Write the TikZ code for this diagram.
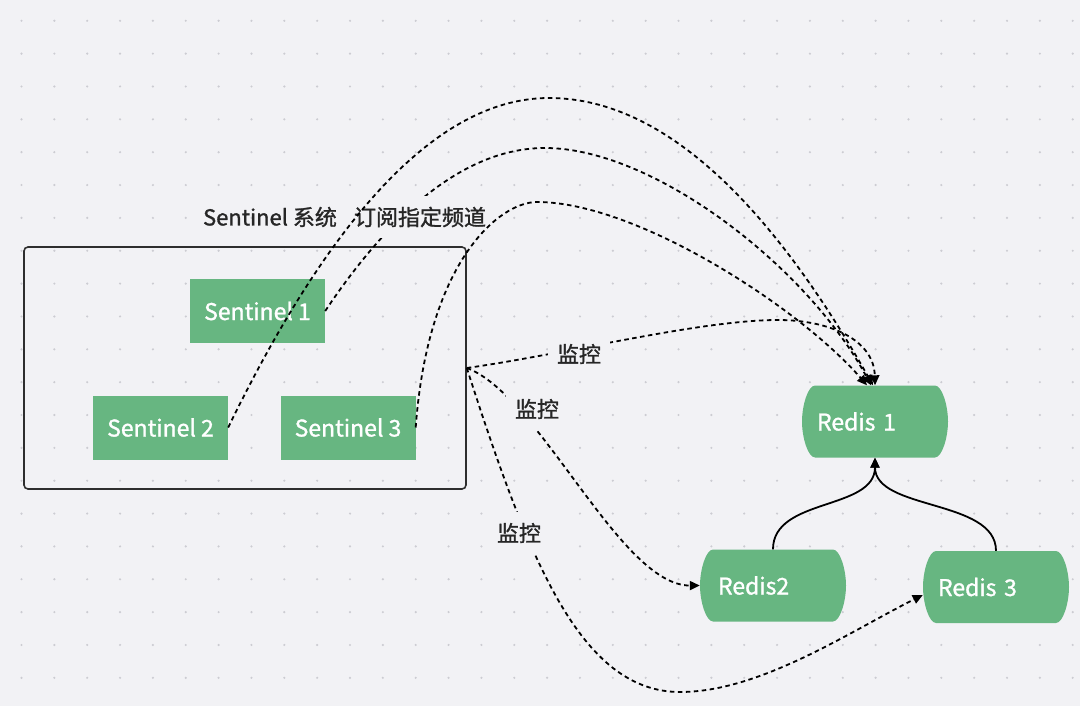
\documentclass[tikz,border=0pt]{standalone}
\usepackage{fontspec}
\setmainfont{Noto Sans CJK SC}
\newfontfamily\medfont{Noto Sans CJK SC}[FakeBold=1.2]
\usetikzlibrary{arrows.meta}

\definecolor{bgcol}{RGB}{242,242,245}
\definecolor{dotcol}{RGB}{204,204,210}
\definecolor{nodegreen}{RGB}{103,182,129}
\definecolor{boxcol}{RGB}{46,46,46}
\definecolor{txtcol}{RGB}{38,38,38}

% barrel-shaped body behind a redis node: centre x, centre y
\newcommand\redisbody[2]{%
  \fill[nodegreen] (#1-60,#2-36) -- (#1+60,#2-36)
    .. controls (#1+67,#2-36) and (#1+73,#2-16) .. (#1+73,#2)
    .. controls (#1+73,#2+16) and (#1+67,#2+36) .. (#1+60,#2+36)
    -- (#1-60,#2+36)
    .. controls (#1-67,#2+36) and (#1-73,#2+16) .. (#1-73,#2)
    .. controls (#1-73,#2-16) and (#1-67,#2-36) .. cycle;}

\tikzset{
  sentinel/.style={fill=nodegreen, text=white, minimum width=135pt, minimum height=64pt, inner sep=0pt, font=\medfont\fontsize{23}{26}\selectfont},
  redis/.style={text=white, minimum width=146pt, minimum height=72pt, text width=116pt, align=left, inner xsep=15pt, font=\medfont\fontsize{23}{26}\selectfont},
  sysbox/.style={draw=boxcol, line width=1.6pt, rounded corners=4pt, minimum width=442pt, minimum height=242pt},
  watch/.style={line width=1.8pt, dash pattern=on 4.5pt off 3.5pt, -{Triangle[length=10pt,width=9pt]}},
  replica/.style={line width=1.8pt, -{Triangle[length=10pt,width=9pt]}},
  tag/.style={fill=bgcol, text=txtcol, inner xsep=9pt, inner ysep=11pt, font=\medfont\fontsize{22}{26}\selectfont}
}

\begin{document}
\begin{tikzpicture}[x=1pt, y=-1pt]
                \fill[bgcol] (0,0) rectangle (1080,706);
                \useasboundingbox (0,0) rectangle (1080,706);

                \def\gap{32.85}
                \foreach \i in {0,...,32}
                    \foreach \j in {0,...,20}
                        \fill[dotcol] (21.5+\gap*\i, 20.8+\gap*\j) circle (1.2pt);

                \node[sysbox] (sys) at (245,368) {};
                \node[sentinel] (s1) at (257.5,311) {Sentinel 1};
                \node[sentinel] (s2) at (160.5,427.5) {Sentinel 2};
                \node[sentinel] (s3) at (348,427.5) {Sentinel 3};

                \redisbody{875}{421.5}
                \redisbody{773}{585.5}
                \redisbody{996}{587}
                \node[redis] (r1) at (875,421.5) {Redis 1};
                \node[redis] (r2) at (773,585.5) {\hspace*{3pt}Redis2};
                \node[redis] (r3) at (996,587) {Redis 3};

                % 订阅
                \draw[watch] (s1.east) .. controls (398,202) and (472,148) .. (545,148)
                    .. controls (655,148) and (809,269) .. ([xshift=-4pt]r1.north);
                \node[tag] (sub) at (420,217) {订阅指定频道};
                \draw[watch] (s2.east) .. controls (335,208) and (442,98) .. (549,98)
                    .. controls (657,98) and (764,193) .. ([xshift=-2pt]r1.north);
                \draw[watch] (s3.east) .. controls (428,260) and (500,202) .. (537,202)
                    .. controls (637,202) and (800,308) .. ([xshift=-8pt]r1.north);

                % 监控
                \draw[watch] (sys.east) .. controls (566,354) and (700,320) .. (778,320)
                    .. controls (830,320) and (874,340) .. (r1.north);
                \draw[watch] (sys.east) .. controls (540,395) and (620,586) .. (r2.west);
                \draw[watch] (sys.east) .. controls (528,558) and (580,692) .. (680,692)
                    .. controls (760,692) and (849,632) .. ([yshift=-8pt]r3.west);
                \node[tag] (w1) at (579,354) {监控};
                \node[tag] (w2) at (537,409) {监控};
                \node[tag] (w3) at (519,533) {监控};

                \draw[replica] (r2.north) .. controls +(0,-52) and +(0,53) .. (r1.south);
                \draw[replica] (r3.north) .. controls +(0,-52) and +(0,53) .. (r1.south);

                \node[text=txtcol, font=\medfont\fontsize{22}{26}\selectfont] (title) at (270,217) {Sentinel 系统};
            \end{tikzpicture}
\end{document}
